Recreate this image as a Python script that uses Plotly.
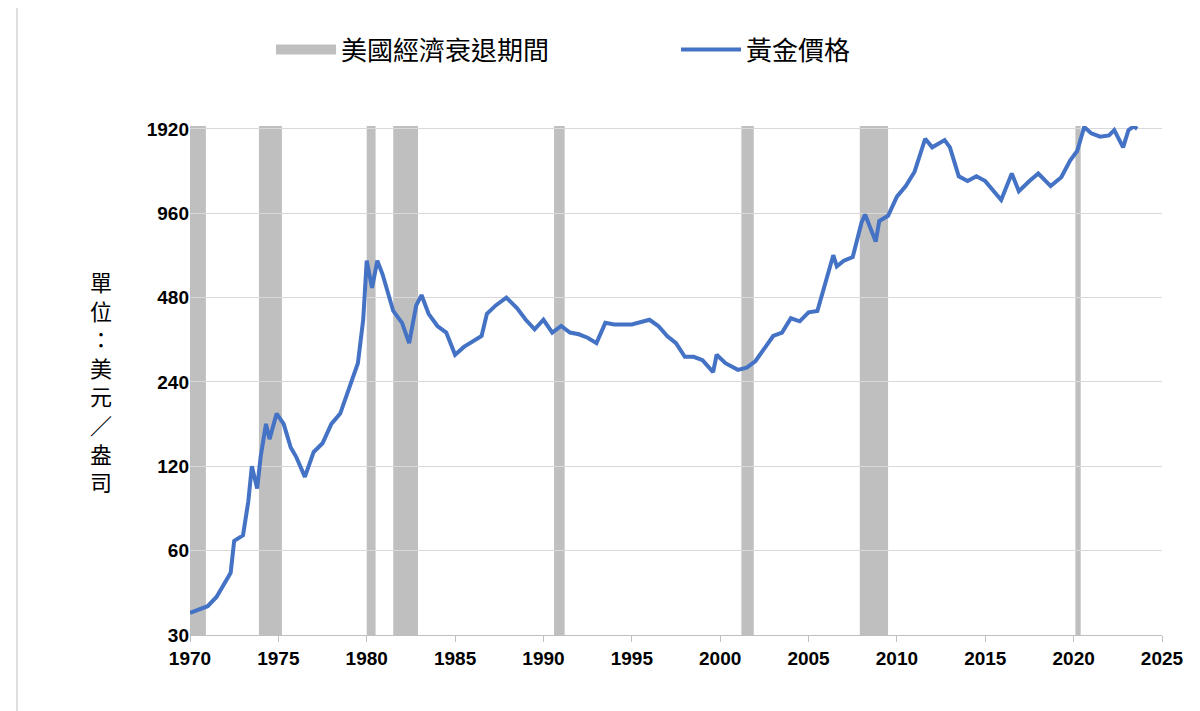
import plotly.graph_objects as go

# recession periods (start, end) in decimal years
rec_start = [1970.0, 1973.9, 1980.0, 1981.5, 1990.6, 2001.2, 2007.9, 2020.1]
rec_end = [1970.9, 1975.2, 1980.5, 1982.9, 1991.2, 2001.9, 2009.5, 2020.4]

# gold price (USD/oz)
years = [1970.0, 1970.5, 1971.0, 1971.5, 1972.0, 1972.3, 1972.5, 1973.0, 1973.3, 1973.5, 1973.8,
         1974.0, 1974.3, 1974.5, 1974.9, 1975.3, 1975.7, 1976.0, 1976.5, 1977.0, 1977.5,
         1978.0, 1978.5, 1979.0, 1979.5, 1979.8, 1980.0, 1980.3, 1980.6, 1980.9, 1981.2,
         1981.5, 1982.0, 1982.4, 1982.8, 1983.1, 1983.5, 1984.0, 1984.5, 1985.0, 1985.5,
         1986.0, 1986.5, 1986.8, 1987.3, 1987.9, 1988.5, 1989.0, 1989.5, 1990.0, 1990.5,
         1991.0, 1991.5, 1992.0, 1992.5, 1993.0, 1993.5, 1994.0, 1995.0, 1996.0, 1996.5,
         1997.0, 1997.5, 1998.0, 1998.5, 1999.0, 1999.6, 1999.8, 2000.3, 2001.0, 2001.5,
         2002.0, 2002.5, 2003.0, 2003.5, 2004.0, 2004.5, 2005.0, 2005.5, 2006.0, 2006.4,
         2006.6, 2007.0, 2007.5, 2008.0, 2008.2, 2008.8, 2009.0, 2009.5, 2010.0, 2010.5,
         2011.0, 2011.6, 2012.0, 2012.7, 2013.0, 2013.5, 2014.0, 2014.5, 2015.0, 2015.9,
         2016.5, 2016.9, 2017.5, 2018.0, 2018.7, 2019.3, 2019.8, 2020.2, 2020.6, 2021.0,
         2021.5, 2022.0, 2022.3, 2022.8, 2023.1, 2023.4, 2023.6]
price = [36, 37, 38, 41, 46, 50, 65, 68, 90, 120, 100,
         130, 170, 150, 185, 170, 140, 130, 110, 135, 145,
         170, 185, 230, 280, 400, 650, 520, 650, 580, 500,
         430, 390, 330, 450, 490, 420, 380, 360, 300, 320,
         335, 350, 420, 450, 480, 440, 400, 370, 400, 360,
         380, 360, 355, 345, 330, 390, 385, 385, 400, 380,
         350, 330, 295, 295, 287, 260, 300, 280, 265, 270,
         285, 315, 350, 360, 405, 395, 425, 430, 550, 680,
         620, 650, 670, 890, 950, 760, 900, 940, 1100, 1200,
         1350, 1770, 1650, 1750, 1650, 1300, 1250, 1300, 1250, 1070,
         1330, 1150, 1250, 1330, 1200, 1290, 1480, 1600, 1950, 1850,
         1800, 1820, 1900, 1650, 1900, 1960, 1920]

y_ticks = [30, 60, 120, 240, 480, 960, 1920]
x_ticks = list(range(1970, 2030, 5))

fig = go.Figure()
fig.add_trace(go.Scatter(x=[None], y=[None], mode="lines", name="美國經濟衰退期間",
                         line=dict(color="#bfbfbf", width=16)))
fig.add_trace(go.Scatter(x=years, y=price, mode="lines", name="黃金價格", cliponaxis=False,
                         line=dict(color="#4472c4", width=4)))

for s, e in zip(rec_start, rec_end):
    fig.add_shape(type="rect", x0=s, x1=e, y0=0, y1=1, xref="x", yref="paper",
                  fillcolor="#bfbfbf", line_width=0, layer="below")

fig.add_shape(type="rect", xref="paper", yref="paper", x0=-0.178, x1=1.04,
              y0=-0.155, y1=1.235, line=dict(color="#bfbfbf", width=1))

fig.update_layout(
    width=1200, height=711,
    paper_bgcolor="white", plot_bgcolor="white",
    margin=dict(l=182, r=46, t=118, b=84, autoexpand=False),
    font=dict(family="Noto Sans CJK TC, Noto Sans, sans-serif", color="#000000"),
    legend=dict(orientation="h", x=0.5, xanchor="center", y=1.15, yanchor="middle",
                font=dict(size=26), itemwidth=60, entrywidth=330,
                bgcolor="rgba(0,0,0,0)"),
    showlegend=True,
)
fig.add_annotation(text="<br>".join("單位：美元／盎司"), xref="paper", yref="paper",
                   x=-0.105, y=0.5, showarrow=False, font=dict(size=22))
fig.update_xaxes(range=[1970, 2025], tickvals=x_ticks, ticks="outside", ticklen=6,
                 tickcolor="#bfbfbf", showline=True, linecolor="#bfbfbf", showgrid=False,
                 tickfont=dict(size=19, family="Liberation Sans", weight="bold"))
fig.update_yaxes(type="log", range=[1.4771, 3.2935], tickvals=y_ticks,
                 showgrid=True, gridcolor="#d9d9d9", zeroline=False,
                 tickfont=dict(size=19, family="Liberation Sans", weight="bold"))

fig.write_html("out.html")
